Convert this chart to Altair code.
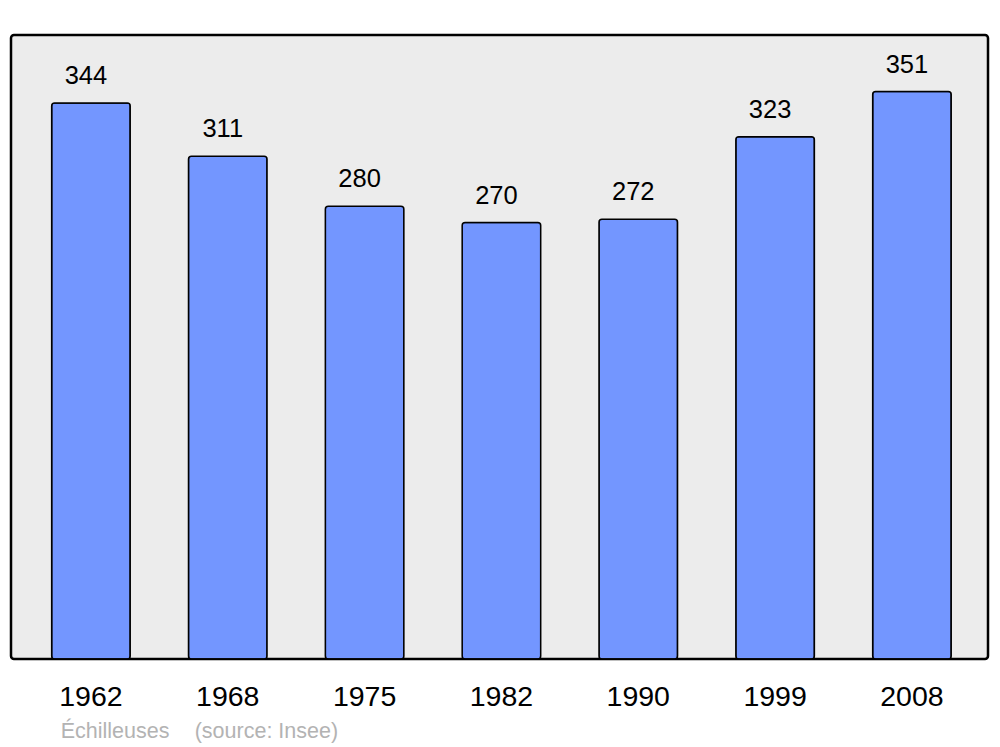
import altair as alt
import pandas as pd

years = ["1962", "1968", "1975", "1982", "1990", "1999", "2008"]
population = [344, 311, 280, 270, 272, 323, 351]
source_texts = ["Échilleuses", "(source: Insee)"]

df = pd.DataFrame({"year": years, "pop": population})

FONT = "Liberation Sans"

x = alt.X(
    "year:N",
    sort=years,
    scale=alt.Scale(paddingInner=0.426, paddingOuter=0.283, align=0.525),
    axis=alt.Axis(
        title=None, domain=False, ticks=False, tickSize=0, grid=False,
        labelAngle=0, labelFontSize=28.5, labelFont=FONT, labelColor="black",
        labelBaseline="alphabetic", labelPadding=46,
    ),
)
y = alt.Y("pop:Q", scale=alt.Scale(domain=[0, 386], nice=False, zero=True), axis=None)

bars = alt.Chart(df).mark_bar(
    fill="#7396ff", stroke="black", strokeWidth=1.5, cornerRadius=3
).encode(x=x, y=y)

labels = alt.Chart(df).mark_text(
    font=FONT, fontSize=25.5, color="black", baseline="alphabetic", dy=-19, dx=-5
).encode(x=x, y=y, text="pop:Q")

src = pd.DataFrame({"t": source_texts, "px": [49.7, 183.7]})
source = alt.Chart(src).mark_text(
    font=FONT, fontSize=21.5, color="#b3b3b3", align="left", baseline="alphabetic"
).encode(x=alt.X("px:Q", scale=None), y=alt.value(703), text="t:N")

chart = alt.layer(bars, labels, source).properties(
    width=977, height=624,
    autosize=alt.AutoSizeParams(type="none"),
    padding={"left": 3, "top": 27, "right": 4, "bottom": 88},
    background="white",
).configure_view(
    fill="#ececec", stroke="black", strokeWidth=2.5, cornerRadius=3
)

chart.save("out.html", embed_options={"renderer": "svg", "actions": False})
